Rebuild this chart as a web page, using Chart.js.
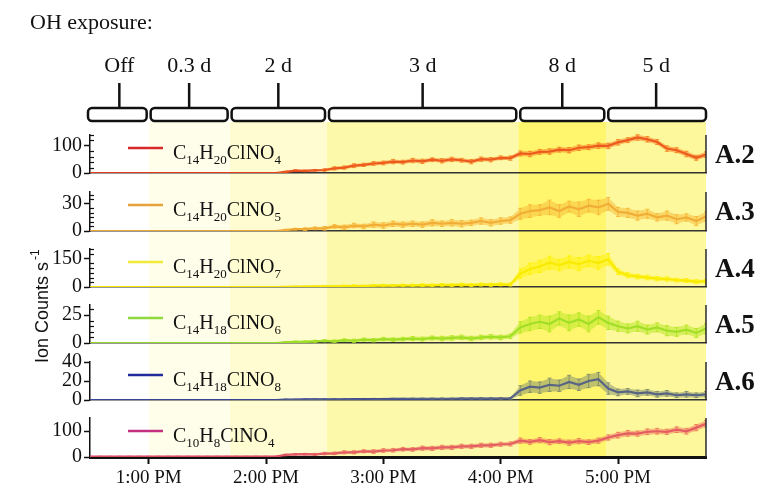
<!DOCTYPE html>
<html lang="en">
<head>
<meta charset="utf-8">
<title>Ion counts under OH exposure</title>
<script src="https://cdn.jsdelivr.net/npm/chart.js@4.4.1/dist/chart.umd.min.js"></script>
<style>
  html, body { margin: 0; padding: 0; background: #fff; }
  #wrap { position: relative; width: 762px; height: 496px; overflow: hidden; background: #fff; }
  #wrap canvas { position: absolute; left: 0; }
</style>
</head>
<body>
<div id="wrap"></div>
<script>
// ---------------- data ----------------
// sample times, minutes after 12:00
const minutes = [30,35,40,45,50,55,60,65,70,75,80,85,90,95,100,105,110,115,120,125,
  130,135,140,145,150,155,160,165,170,175,180,185,190,195,200,205,210,215,220,225,
  230,235,240,245,250,255,260,265,270,275,280,285,290,295,300,305,310,315,320,325,
  330,335,340,345];

// x axis ticks (hour of day) and their labels
const hourTicks = [13, 14, 15, 16, 17];
const hourLabels = ['1:00 PM', '2:00 PM', '3:00 PM', '4:00 PM', '5:00 PM'];

// OH exposure periods: labels and boundaries (hour of day)
const exposureLabels = ['Off', '0.3 d', '2 d', '3 d', '8 d', '5 d'];
const exposureEdges = [12.5, 13.0, 13.69, 14.52, 16.15, 16.9, 17.75];

// species names and tags
const speciesNames = ['C14H20ClNO4', 'C14H20ClNO5', 'C14H20ClNO7', 'C14H18ClNO6', 'C14H18ClNO8', 'C10H8ClNO4'];
const speciesTags = ['A.2', 'A.3', 'A.4', 'A.5', 'A.6', ''];

// ion counts per second
const c14h20clno4 = [0,0,0,0,0,0,0,0,0,0,0,0,0,0,0,0,0,0,0,0,
  4,9,8,10,11,17,20,27,30,35,37,42,40,46,43,49,45,50,47,42,51,49,56,55,
  72,70,78,79,86,84,93,95,101,100,113,121,131,124,114,90,84,70,56,68];
const c14h20clno4Err = [0.8,0.8,0.8,0.8,0.8,0.8,0.8,0.8,0.8,0.8,0.8,0.8,0.8,0.8,0.8,0.8,0.8,0.8,0.8,0.8,
  3,3,3,3,5,6,6,7,6,7,7,8,7,8,8,7,8,8,7,8,8,8,7,8,
  9,10,9,10,9,10,10,9,10,10,10,9,10,10,9,10,9,10,9,10];

const c14h20clno5 = [0,0,0,0,0,0,0,0,0,0,0,0,0,0,0,0,0,0,0,0,
  1,2,2,3,3,5,4,6,5,7,6,8,7,8,7,9,8,9,8,9,11,9,11,12,
  19,22,23,26,22,27,24,28,26,30,21,20,17,19,15,17,13,15,11,16];
const c14h20clno5Err = [0.3,0.3,0.3,0.3,0.3,0.3,0.3,0.3,0.3,0.3,0.3,0.3,0.3,0.3,0.3,0.3,0.3,0.3,0.3,0.3,
  1,1,1.5,1.5,2,2,2.5,2.5,2.5,3,3,3,3,3,3,3.5,3,3.5,3.5,3,3.5,3.5,3.5,3.5,
  6,7,6,8,7,6,8,7,8,7,5,5,5,5,4,5,5,4,5,5];

const c14h20clno7 = [0,0,0,0,0,0,0,0,0,0,0,0,0,0,0,0,0,0,0,0,
  1,2,2,3,4,3,5,6,5,7,8,7,9,8,10,9,11,10,12,10,13,12,14,13,
  70,95,108,128,115,132,120,138,126,146,80,62,55,50,44,42,36,34,28,30];
const c14h20clno7Err = [0.5,0.5,0.5,0.5,0.5,0.5,0.5,0.5,0.5,0.5,0.5,0.5,0.5,0.5,0.5,0.5,0.5,0.5,0.5,0.5,
  2,2,3,3,4,4,5,5,5,6,6,6,6,7,7,7,7,7,8,8,8,8,8,8,
  25,30,32,34,30,32,34,30,34,30,15,13,12,12,11,11,10,10,10,10];

const c14h18clno6 = [0,0,0,0,0,0,0,0,0,0,0,0,0,0,0,0,0,0,0,0,
  0.5,1,1,1.5,2,1.5,2.5,2,3,2.5,3.5,3,3.5,4,3.5,4.5,4,4.5,5,4,5,5.5,5,6,
  14,17,19,17,22,18,21,17,23,18,15,13,15,12,14,11,10,12,9,13];
const c14h18clno6Err = [0.3,0.3,0.3,0.3,0.3,0.3,0.3,0.3,0.3,0.3,0.3,0.3,0.3,0.3,0.3,0.3,0.3,0.3,0.3,0.3,
  0.8,0.8,1,1,1,1.2,1.2,1.4,1.4,1.5,1.5,1.6,1.6,1.8,1.8,1.8,2,2,2,2,2,2,2,2,
  5,6,6,7,6,7,6,7,6,6,4.5,4,4.5,4,4,4.5,4,4,4,4.5];

const c14h18clno8 = [0,0,0,0,0,0,0,0,0,0,0,0,0,0,0,0,0,0,0,0,
  0.5,0.5,0.6,0.6,0.7,0.8,0.8,0.9,1,1,1,1.1,1.1,1.2,1.2,1.3,1.3,1.3,1.4,1.4,1.5,1.5,1.6,1.7,
  10,14,13,16,15,19,16,20,22,12,8,9,7,8,6,7,5,6,5,6];
const c14h18clno8Err = [0.2,0.2,0.2,0.2,0.2,0.2,0.2,0.2,0.2,0.2,0.2,0.2,0.2,0.2,0.2,0.2,0.2,0.2,0.2,0.2,
  0.4,0.4,0.4,0.5,0.5,0.5,0.6,0.6,0.6,0.7,0.7,0.7,0.7,0.8,0.8,0.8,0.8,0.8,0.9,0.9,0.9,0.9,1,1,
  5,6,6,7,6,7,6,7,7,6,3.5,3,3.5,3,3,3,2.5,3,2.5,3];

const c10h8clno4 = [2,2,2,2,2,2,2,2,2,2,2,2,2,2,2,2,2,2,2,2,
  8,10,11,10,13,14,18,18,22,21,25,26,30,29,34,33,37,37,41,41,45,45,49,50,
  63,58,65,57,61,55,61,57,63,75,84,91,90,97,99,97,105,99,113,128];
const c10h8clno4Err = [1,1,1,1,1,1,1,1,1,1,1,1,1,1,1,1,1,1,1,1,
  3,3,3,4,5,5,6,6,6,7,7,7,7,7,8,8,8,8,8,8,8,8,8,8,
  10,9,10,10,9,10,10,9,10,10,11,11,10,11,11,10,11,11,12,12];

const seriesValues = [c14h20clno4, c14h20clno5, c14h20clno7, c14h18clno6, c14h18clno8, c10h8clno4];
const seriesErrors = [c14h20clno4Err, c14h20clno5Err, c14h20clno7Err, c14h18clno6Err, c14h18clno8Err, c10h8clno4Err];

// y axis ranges, tick positions and labelled ticks per panel
const yMax = [140, 43, 200, 34, 40, 150];
const yTicks = [[0,20,40,60,80,100,120,140], [0,5,10,15,20,25,30,35,40], [0,25,50,75,100,125,150,175,200],
  [0,5,10,15,20,25,30], [0,20,40], [0,100]];
const yLabels = [[0,100], [0,30], [0,150], [0,25], [0,20,40], [0,100]];

// ---------------- styling ----------------
const X_MIN = 12.5, X_MAX = 17.75;
const SERIF = '"Liberation Serif", "Times New Roman", serif';
const SANS = '"Liberation Sans", Arial, sans-serif';
const INK = '#111111';
const bandColors = ['#FFFFFF', '#FFFEEA', '#FEFCD0', '#FCF9AA', '#FFF66E', '#FDF89C'];
const lineColors = ['#E2331E', '#EBA236', '#F0E400', '#8ED62E', '#2F3C9C', '#D8406A'];
const errColors = ['#F5821F', '#F7B733', '#FFF200', '#B4E61E', '#7F8C6A', '#F07A5A'];
const legendColors = ['#D82A2A', '#E6A23C', '#F1EA3A', '#8FD93F', '#1F2C99', '#C2307F'];
const panelTop = [135, 192, 249, 305, 362, 418];
const panelBottom = [173, 231, 287, 343, 400, 457];

Chart.defaults.font.family = SERIF;
Chart.defaults.font.size = 20;
Chart.defaults.color = INK;

function rgba(hex, a) {
  const n = parseInt(hex.slice(1), 16);
  return `rgba(${(n >> 16) & 255},${(n >> 8) & 255},${n & 255},${a})`;
}
function hourOf(m) { return 12 + m / 60; }

const wrap = document.getElementById('wrap');
function addCanvas(top, height) {
  const c = document.createElement('canvas');
  c.width = 762; c.height = height;
  c.style.top = top + 'px';
  c.style.width = '762px'; c.style.height = height + 'px';
  wrap.appendChild(c);
  return c;
}

// draws a chemical formula with its digits as subscripts
function drawFormula(ctx, text, x, y) {
  let cx = x;
  for (const part of text.match(/\d+|\D+/g)) {
    const sub = /\d/.test(part);
    ctx.font = (sub ? '13px ' : '20px ') + SERIF;
    ctx.fillText(part, cx, sub ? y + 5 : y);
    cx += ctx.measureText(part).width;
  }
}

// ---------------- background: exposure bands, brackets, titles ----------------
const framePlugin = {
  id: 'frame',
  afterDraw(chart) {
    const ctx = chart.ctx;
    const xs = chart.scales.x;
    ctx.save();
    ctx.fillStyle = INK;
    ctx.textBaseline = 'alphabetic';

    ctx.font = '22px ' + SERIF;
    ctx.textAlign = 'left';
    ctx.fillText('OH exposure:', 30, 29);

    // exposure brackets
    ctx.strokeStyle = INK;
    ctx.lineWidth = 2.5;
    const last = exposureLabels.length - 1;
    exposureLabels.forEach((lab, k) => {
      const x0 = xs.getPixelForValue(exposureEdges[k]) + (k === 0 ? -2 : 2);
      const x1 = xs.getPixelForValue(exposureEdges[k + 1]) - (k === last ? 0 : 2);
      const mid = (xs.getPixelForValue(exposureEdges[k]) + xs.getPixelForValue(exposureEdges[k + 1])) / 2;
      ctx.beginPath();
      ctx.roundRect(x0, 108, x1 - x0, 13, 4);
      ctx.fillStyle = '#FFFFFF';
      ctx.fill();
      ctx.stroke();
      ctx.beginPath();
      ctx.moveTo(mid, 83);
      ctx.lineTo(mid, 108);
      ctx.stroke();
      ctx.fillStyle = INK;
      ctx.font = '22px ' + SERIF;
      ctx.textAlign = 'center';
      ctx.fillText(lab, mid, 72);
    });

    // panel tags on the right
    ctx.font = 'bold 27px ' + SERIF;
    ctx.textAlign = 'left';
    speciesTags.forEach((tag, i) => {
      if (tag) ctx.fillText(tag, 715, panelTop[i] + 28);
    });

    // y axis title
    ctx.translate(48, 363);
    ctx.rotate(-Math.PI / 2);
    ctx.font = '18px ' + SANS;
    ctx.textAlign = 'left';
    ctx.fillText('Ion Counts s', 0, 0);
    const w = ctx.measureText('Ion Counts s').width;
    ctx.font = '12px ' + SANS;
    ctx.fillText('-1', w + 2, -9);
    ctx.restore();
  }
};

new Chart(addCanvas(0, 496), {
  type: 'bar',
  data: {
    labels: ['exposure'],
    datasets: exposureLabels.map((lab, k) => ({
      label: lab,
      data: [[exposureEdges[k], exposureEdges[k + 1]]],
      backgroundColor: bandColors[k],
      borderWidth: 0,
      inflateAmount: 0,
      grouped: false,
      barPercentage: 1,
      categoryPercentage: 1
    }))
  },
  options: {
    indexAxis: 'y',
    responsive: false,
    animation: false,
    devicePixelRatio: 1,
    layout: { padding: { left: 90, right: 56, top: 122, bottom: 38 } },
    plugins: { legend: { display: false }, tooltip: { enabled: false } },
    scales: {
      x: { type: 'linear', min: X_MIN, max: X_MAX, display: false },
      y: { display: false }
    }
  },
  plugins: [framePlugin]
});

// ---------------- the six stacked panels ----------------
const PAD_TOP = 14;

speciesNames.forEach((name, i) => {
  const isLast = i === speciesNames.length - 1;
  const xh = isLast ? 38 : 14;
  const h = PAD_TOP + (panelBottom[i] - panelTop[i]) + xh;
  const vals = seriesValues[i];
  const errs = seriesErrors[i];
  const mean = minutes.map((m, j) => ({ x: hourOf(m), y: vals[j] }));
  const lower = minutes.map((m, j) => ({ x: hourOf(m), y: vals[j] - errs[j] }));
  const upper = minutes.map((m, j) => ({ x: hourOf(m), y: vals[j] + errs[j] }));

  const panelPlugin = {
    id: 'panel' + i,
    beforeDatasetDraw(chart, args) {
      if (args.index !== 2) return;
      // error bars with caps
      const { ctx, chartArea: a } = chart;
      const xs = chart.scales.x, ys = chart.scales.y;
      ctx.save();
      ctx.beginPath();
      ctx.rect(a.left, a.top - 2, a.right - a.left, a.bottom - a.top + 2);
      ctx.clip();
      ctx.strokeStyle = rgba(errColors[i], 0.9);
      ctx.lineWidth = 1;
      minutes.forEach((m, j) => {
        const x = xs.getPixelForValue(hourOf(m));
        const y1 = ys.getPixelForValue(vals[j] - errs[j]);
        const y2 = ys.getPixelForValue(vals[j] + errs[j]);
        ctx.beginPath();
        ctx.moveTo(x, y1); ctx.lineTo(x, y2);
        ctx.moveTo(x - 2, y1); ctx.lineTo(x + 2, y1);
        ctx.moveTo(x - 2, y2); ctx.lineTo(x + 2, y2);
        ctx.stroke();
      });
      ctx.restore();
    },
    afterDraw(chart) {
      const { ctx, chartArea: a } = chart;
      const ys = chart.scales.y;
      ctx.save();
      ctx.strokeStyle = '#2a2a2a';
      ctx.lineWidth = 1.5;
      // right frame line
      ctx.beginPath();
      ctx.moveTo(a.right, a.top);
      ctx.lineTo(a.right, a.bottom);
      ctx.stroke();
      // minor ticks inside the y axis
      ctx.strokeStyle = INK;
      ctx.lineWidth = 1.2;
      yTicks[i].forEach(v => {
        if (yLabels[i].includes(v)) return;
        const y = Math.round(ys.getPixelForValue(v)) + 0.5;
        ctx.beginPath();
        ctx.moveTo(a.left, y);
        ctx.lineTo(a.left + 4, y);
        ctx.stroke();
      });
      // legend entry
      const ly = a.top + 13;
      ctx.strokeStyle = legendColors[i];
      ctx.lineWidth = 2.5;
      ctx.beginPath();
      ctx.moveTo(128, ly);
      ctx.lineTo(163, ly);
      ctx.stroke();
      ctx.fillStyle = INK;
      ctx.textAlign = 'left';
      ctx.textBaseline = 'alphabetic';
      drawFormula(ctx, name, 173, a.top + 24);
      ctx.restore();
    }
  };

  new Chart(addCanvas(panelTop[i] - PAD_TOP, h), {
    type: 'line',
    data: {
      datasets: [
        { data: lower, borderWidth: 0, pointRadius: 0, fill: false },
        { data: upper, borderWidth: 0, pointRadius: 0, fill: '-1', backgroundColor: rgba(errColors[i], 0.5) },
        { data: mean, borderColor: lineColors[i], borderWidth: 2.2, pointRadius: 0, fill: false }
      ]
    },
    options: {
      responsive: false,
      animation: false,
      devicePixelRatio: 1,
      layout: { padding: { top: PAD_TOP, right: 56, left: 0, bottom: 0 } },
      plugins: { legend: { display: false }, tooltip: { enabled: false } },
      scales: {
        x: {
          type: 'linear',
          min: X_MIN,
          max: X_MAX,
          afterBuildTicks: s => { s.ticks = hourTicks.map(v => ({ value: v })); },
          afterFit: s => { s.height = xh; },
          grid: { display: isLast, drawOnChartArea: false, tickLength: 7, tickWidth: 2, tickColor: INK },
          border: { display: true, color: isLast ? INK : '#333333', width: isLast ? 3 : 1.5 },
          ticks: {
            display: isLast,
            autoSkip: false,
            maxRotation: 0,
            padding: 3,
            font: { size: 19 },
            callback: v => { const k = hourTicks.indexOf(v); return k < 0 ? '' : hourLabels[k]; }
          }
        },
        y: {
          min: 0,
          max: yMax[i],
          afterBuildTicks: s => { s.ticks = yTicks[i].map(v => ({ value: v })); },
          afterFit: s => { s.width = 90; },
          grid: {
            drawOnChartArea: false,
            tickLength: 6,
            tickWidth: 1.5,
            tickColor: c => (c.tick && yLabels[i].includes(c.tick.value)) ? INK : 'rgba(0,0,0,0)'
          },
          border: { color: INK, width: 1.5 },
          ticks: {
            autoSkip: false,
            padding: 2,
            font: { size: 20 },
            callback: v => yLabels[i].includes(v) ? String(v) : ''
          }
        }
      }
    },
    plugins: [panelPlugin]
  });
});
</script>
</body>
</html>
